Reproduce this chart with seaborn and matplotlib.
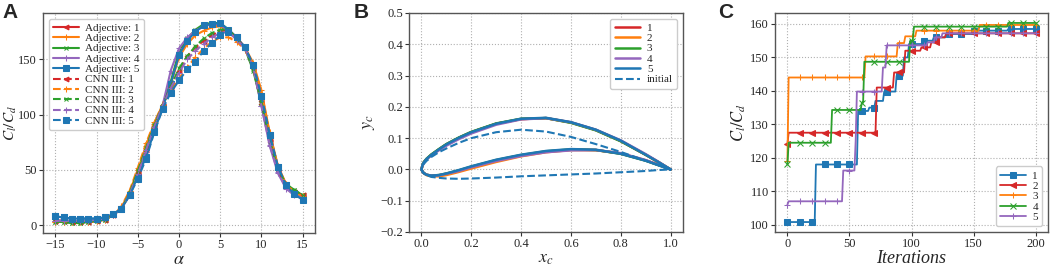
import matplotlib
matplotlib.use("Agg")
import matplotlib.pyplot as plt
import numpy as np
import pandas as pd
import seaborn as sns

# ---- panel A: lift-to-drag ratio vs angle of attack ----
alpha = list(range(-15, 16))
adj1 = [4, 4, 3, 3, 3, 4, 5, 9, 15, 28, 47, 68, 90, 108, 128, 155, 168, 176, 180, 182, 181, 177, 170, 161, 143, 110, 75, 50, 36, 30, 27]
adj2 = [3, 3, 3, 3, 3, 4, 5, 9, 16, 30, 50, 72, 92, 109, 128, 152, 164, 172, 176, 179, 180, 176, 168, 161, 147, 122, 84, 54, 37, 30, 26]
adj3 = [3, 3, 2, 2, 3, 4, 5, 9, 15, 28, 48, 68, 90, 108, 130, 157, 169, 177, 182, 183, 183, 177, 169, 160, 140, 110, 76, 50, 37, 32, 27]
adj4 = [4, 4, 4, 4, 4, 5, 6, 9, 15, 27, 45, 66, 88, 108, 140, 160, 170, 176, 180, 182, 182, 175, 168, 160, 143, 108, 72, 47, 33, 27, 24]
adj5 = [8, 7, 6, 6, 6, 6, 7, 10, 15, 27, 44, 62, 85, 106, 128, 154, 167, 175, 181, 182, 183, 177, 170, 161, 145, 117, 82, 53, 36, 29, 24]
cnn1 = [4, 4, 3, 3, 3, 4, 5, 9, 16, 29, 48, 70, 91, 108, 125, 140, 153, 161, 167, 172, 176, 176, 169, 160, 142, 112, 78, 50, 36, 30, 27]
cnn2 = [3, 3, 3, 3, 3, 4, 5, 9, 17, 31, 52, 74, 93, 109, 122, 133, 143, 152, 160, 166, 170, 170, 166, 159, 146, 120, 83, 53, 37, 30, 26]
cnn3 = [3, 3, 2, 2, 3, 4, 5, 9, 15, 29, 49, 70, 91, 108, 125, 142, 153, 162, 169, 174, 177, 177, 169, 160, 141, 111, 77, 51, 37, 32, 27]
cnn4 = [4, 4, 4, 4, 4, 5, 6, 9, 15, 28, 46, 68, 89, 108, 124, 138, 150, 158, 164, 170, 174, 175, 168, 160, 143, 108, 73, 48, 34, 28, 24]
cnn5 = [8, 7, 6, 6, 6, 6, 7, 10, 15, 27, 42, 60, 84, 105, 120, 131, 141, 148, 158, 165, 172, 175, 170, 161, 145, 117, 82, 53, 36, 28, 23]

# ---- panel B: airfoil shapes (x stations, upper / lower surfaces) ----
xs = [0, 0.005, 0.01, 0.02, 0.04, 0.07, 0.1, 0.15, 0.2, 0.3, 0.4, 0.5, 0.6, 0.7, 0.8, 0.9, 0.95, 1.0]
opt_up = [
    [0, 0.016, 0.023, 0.033, 0.047, 0.064, 0.080, 0.101, 0.119, 0.146, 0.161, 0.164, 0.150, 0.126, 0.091, 0.047, 0.024, 0],
    [0, 0.016, 0.023, 0.033, 0.047, 0.064, 0.080, 0.101, 0.119, 0.146, 0.161, 0.164, 0.150, 0.126, 0.091, 0.047, 0.024, 0],
    [0, 0.017, 0.024, 0.034, 0.048, 0.065, 0.081, 0.102, 0.120, 0.147, 0.162, 0.164, 0.149, 0.125, 0.090, 0.047, 0.024, 0],
    [0, 0.015, 0.022, 0.032, 0.045, 0.061, 0.076, 0.097, 0.115, 0.143, 0.160, 0.164, 0.151, 0.127, 0.093, 0.049, 0.025, 0],
    [0, 0.016, 0.023, 0.033, 0.047, 0.064, 0.080, 0.101, 0.119, 0.146, 0.162, 0.165, 0.151, 0.127, 0.092, 0.047, 0.024, 0],
]
opt_lo = [
    [0, -0.008, -0.012, -0.017, -0.020, -0.019, -0.014, -0.004, 0.008, 0.029, 0.045, 0.057, 0.063, 0.062, 0.051, 0.029, 0.015, 0],
    [0, -0.008, -0.012, -0.018, -0.022, -0.022, -0.018, -0.008, 0.003, 0.024, 0.042, 0.055, 0.062, 0.062, 0.051, 0.029, 0.015, 0],
    [0, -0.008, -0.012, -0.017, -0.020, -0.018, -0.013, -0.003, 0.009, 0.030, 0.046, 0.058, 0.064, 0.062, 0.050, 0.028, 0.014, 0],
    [0, -0.008, -0.012, -0.017, -0.020, -0.019, -0.014, -0.005, 0.007, 0.027, 0.043, 0.055, 0.061, 0.062, 0.052, 0.030, 0.015, 0],
    [0, -0.008, -0.012, -0.017, -0.020, -0.018, -0.013, -0.002, 0.010, 0.031, 0.047, 0.059, 0.065, 0.063, 0.050, 0.028, 0.014, 0],
]
init_up = [0, 0.012, 0.018, 0.027, 0.040, 0.055, 0.067, 0.085, 0.100, 0.119, 0.127, 0.121, 0.104, 0.081, 0.056, 0.028, 0.014, 0]
init_lo = [0, -0.008, -0.012, -0.018, -0.024, -0.027, -0.029, -0.030, -0.029, -0.026, -0.022, -0.019, -0.016, -0.013, -0.009, -0.005, -0.002, 0]

# ---- panel C: best C_l/C_d during optimisation (change points) ----
c1_it = [0, 23, 57, 66, 71, 78, 88, 94, 98, 110, 118, 128, 150, 178]
c1_val = [100.8, 118, 134, 135, 137, 139.8, 144.5, 150, 154, 155, 156, 157, 158, 158.5]
c2_it = [0, 1, 72, 86, 95, 108, 116, 122, 128]
c2_val = [124, 127.5, 141, 145.5, 152, 153, 154.5, 156, 157.2]
c3_it = [0, 1, 63, 89, 95, 104, 155]
c3_val = [119, 144, 150.3, 154.3, 156.3, 158, 159.7]
c4_it = [0, 1, 36, 60, 62, 99, 102, 178]
c4_val = [118, 124.5, 134.3, 136.5, 148.7, 155, 159.2, 160.3]
c5_it = [0, 1, 45, 55, 56, 77, 80, 113, 119, 125]
c5_val = [106, 107, 116.2, 125, 139.8, 147, 153.6, 154.5, 156, 157.2]
n_iter = 200

colors = ["#d62728", "#ff7f0e", "#2ca02c", "#9467bd", "#1f77b4"]

sns.set_theme(style="whitegrid")
serif = ["Liberation Serif", "DejaVu Serif"]
plt.rcParams["font.family"] = serif
plt.rcParams["mathtext.fontset"] = "stix"
plt.rcParams["axes.edgecolor"] = "#555555"
plt.rcParams["grid.linestyle"] = ":"
plt.rcParams["grid.color"] = "#b0b0b0"
plt.rcParams["grid.linewidth"] = 0.8

fig = plt.figure(figsize=(10.52, 2.68), dpi=100)
W, H = 1052, 268
axA = fig.add_axes([43 / W, 35 / H, 272 / W, 220 / H])
axB = fig.add_axes([409 / W, 36 / H, 274 / W, 219 / H])
axC = fig.add_axes([775 / W, 36 / H, 273 / W, 219 / H])

leg_kw = dict(prop={"family": serif, "size": 8}, handlelength=2.3, labelspacing=0.05,
              borderpad=0.4, handletextpad=0.6, framealpha=1, edgecolor="#cccccc")

# panel A
adj = [adj1, adj2, adj3, adj4, adj5]
cnn = [cnn1, cnn2, cnn3, cnn4, cnn5]
mk = ["<", "+", "x", "+", "s"]
ms = [3.5, 4, 3.5, 4, 4.5]
for i in range(5):
    sns.lineplot(x=alpha, y=adj[i], ax=axA, color=colors[i], marker=mk[i], markersize=ms[i],
                 markeredgecolor=colors[i], lw=1.5, estimator=None, label=f"Adjective: {i + 1}")
for i in range(5):
    sns.lineplot(x=alpha, y=cnn[i], ax=axA, color=colors[i], marker=mk[i], markersize=ms[i],
                 markeredgecolor=colors[i], lw=1.5, ls="--", estimator=None, label=f"CNN III: {i + 1}")
axA.set_xticks([-15, -10, -5, 0, 5, 10, 15])
axA.set_yticks([0, 50, 100, 150])
axA.set_xlabel(r"$\alpha$", fontsize=13, labelpad=0)
axA.set_ylabel(r"$C_l/C_d$", fontsize=11)
axA.yaxis.set_label_coords(-0.09, 0.5)
axA.legend(loc="upper left", **leg_kw)

# panel B
for i in range(5):
    bx = xs[::-1] + xs[1:]
    by = opt_up[i][::-1] + opt_lo[i][1:]
    sns.lineplot(x=bx, y=by, ax=axB, color=colors[i], lw=1.8, sort=False, estimator=None,
                 label=str(i + 1))
sns.lineplot(x=xs[::-1] + xs[1:], y=init_up[::-1] + init_lo[1:], ax=axB, color=colors[4],
             lw=1.5, ls="--", sort=False, estimator=None, label="initial")
axB.set_ylim(-0.2, 0.5)
axB.set_xticks([0.0, 0.2, 0.4, 0.6, 0.8, 1.0])
axB.set_xlabel(r"$x_c$", fontsize=13, labelpad=0)
axB.set_ylabel(r"$y_c$", fontsize=13)
axB.yaxis.set_label_coords(-0.117, 0.5)
axB.legend(loc="upper right", **leg_kw)

# panel C
iters = np.arange(n_iter + 1)
c_its = [c1_it, c2_it, c3_it, c4_it, c5_it]
c_vals = [c1_val, c2_val, c3_val, c4_val, c5_val]
c_colors = [colors[4], colors[0], colors[1], colors[2], colors[3]]
c_mk = ["s", "<", "+", "x", "+"]
c_ms = [4.5, 4, 5, 4, 4]
for i in range(5):
    s = pd.Series(c_vals[i], index=c_its[i]).reindex(iters).ffill()
    sns.lineplot(x=iters, y=s.values, ax=axC, color=c_colors[i], marker=c_mk[i], markersize=c_ms[i],
                 markeredgecolor=c_colors[i], markevery=10, lw=1.3, estimator=None, label=str(i + 1))
axC.set_xticks([0, 50, 100, 150, 200])
axC.set_yticks([100, 110, 120, 130, 140, 150, 160])
axC.set_xlabel("Iterations", fontsize=13, style="italic", labelpad=0)
axC.set_ylabel(r"$C_l/C_d$", fontsize=12)
axC.yaxis.set_label_coords(-0.1, 0.5)
axC.legend(loc="lower right", **leg_kw)

for ax in (axA, axB, axC):
    ax.tick_params(direction="out", length=3, width=0.8, labelsize=9, pad=1.5,
                   bottom=True, left=True, color="#333333", labelfontfamily=serif[0])
    for sp in ax.spines.values():
        sp.set_linewidth(1.0)
    ax.grid(True)

for lab, xpos in (("A", 2), ("B", 354), ("C", 718)):
    fig.text(xpos / W, 1 - 3 / H, lab, fontsize=15, fontweight="bold",
             family=["Liberation Sans", "DejaVu Sans"], va="top", ha="left")

fig.savefig("out.png", dpi=100)
